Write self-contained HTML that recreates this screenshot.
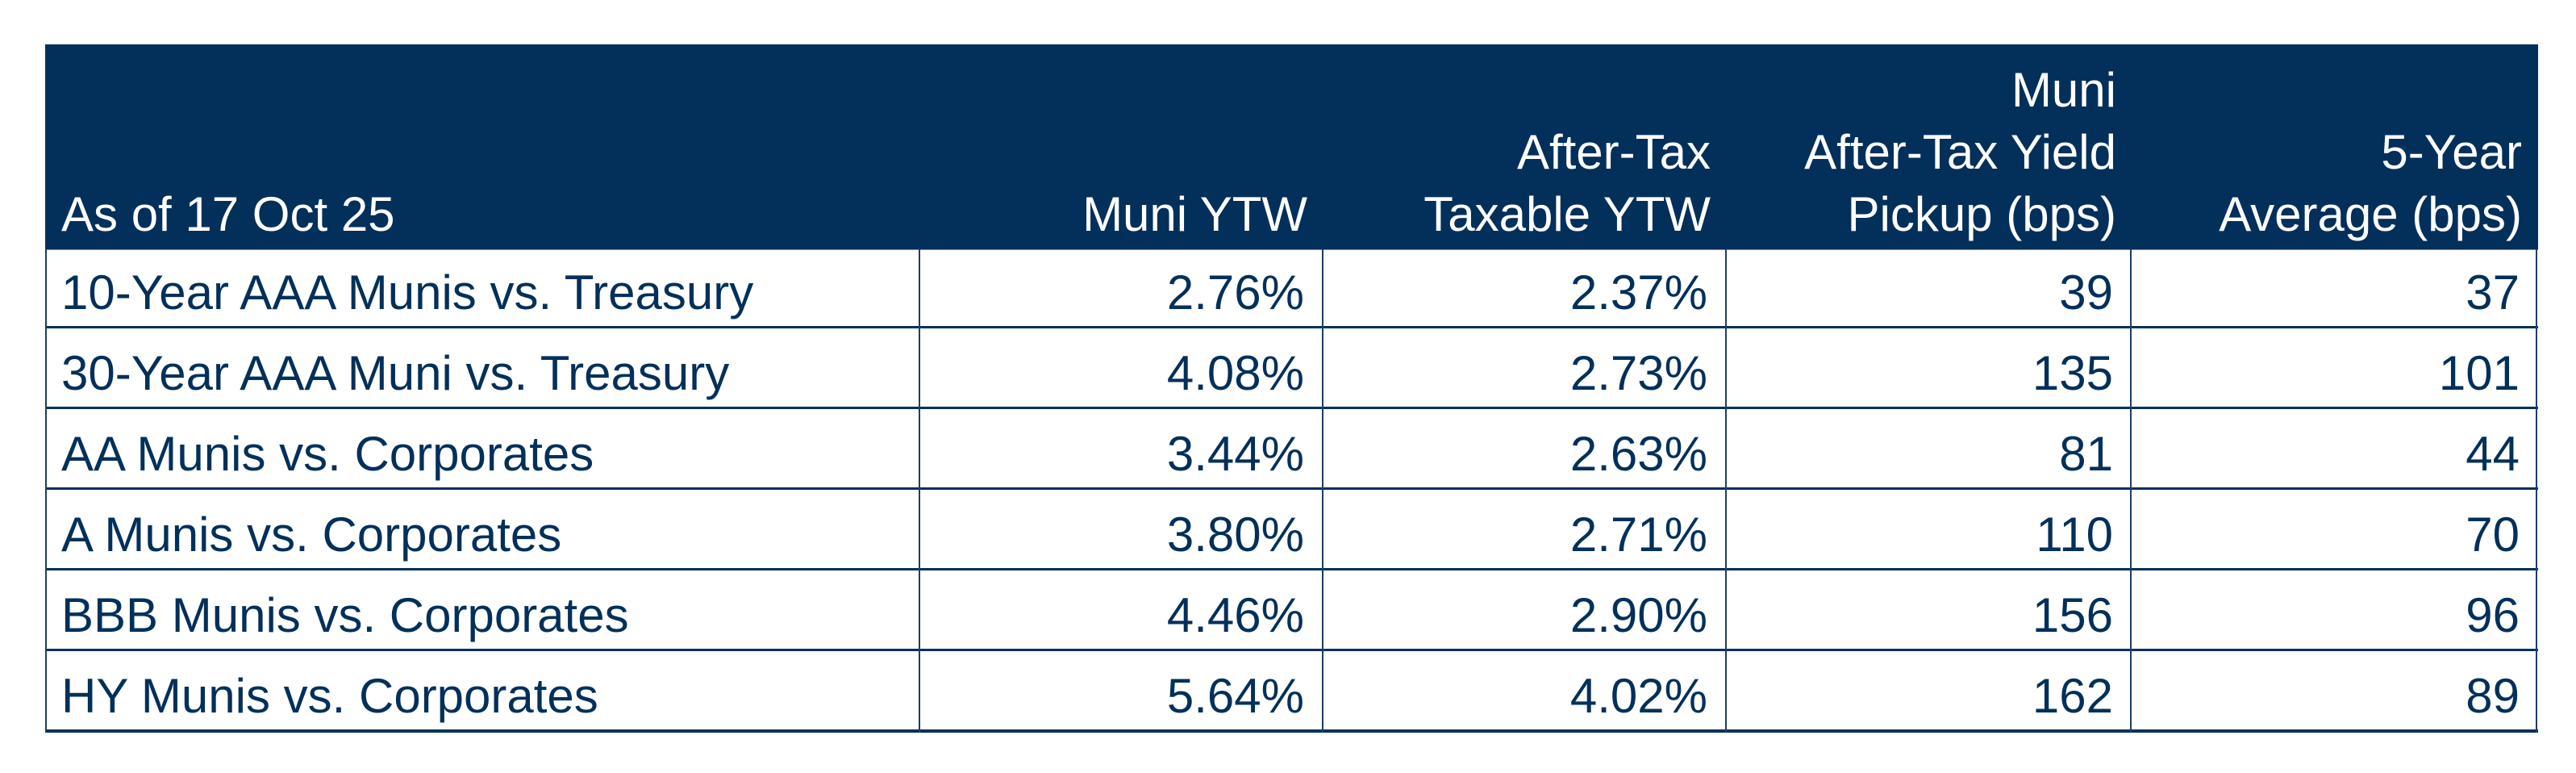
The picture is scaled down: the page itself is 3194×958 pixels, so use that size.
<!DOCTYPE html>
<html>
<head>
<meta charset="utf-8">
<style>
  html, body { margin:0; padding:0; }
  body { width:3194px; height:958px; background:#ffffff; position:relative; overflow:hidden;
         font-family:"Liberation Sans", "DejaVu Sans", sans-serif; }
  .abs { position:absolute; }
  .hdr { left:56px; top:55px; width:3091px; height:255px; background:#03305a; }
  .hline { position:absolute; left:56px; width:3091px; height:3px; background:#03305a; }
  .vline { position:absolute; top:309px; width:2px; height:599px; background:#1d3f63; }
  .t { position:absolute; font-size:60px; line-height:60px; white-space:nowrap; }
  .w { color:#ffffff; }
  .n { color:#03305a; }
  .r { text-align:right; }
</style>
</head>
<body>
<div class="abs hdr"></div>
<div class="abs" style="left:56px;top:309px;width:3091px;height:1px;background:#8796aa;"></div>

<!-- row lines -->
<div class="hline" style="top:404px"></div>
<div class="hline" style="top:504px"></div>
<div class="hline" style="top:604px"></div>
<div class="hline" style="top:704px"></div>
<div class="hline" style="top:804px"></div>
<div class="hline" style="top:904px;height:4px"></div>

<!-- vertical lines -->
<div class="vline" style="left:56px"></div>
<div class="vline" style="left:1139px"></div>
<div class="vline" style="left:1639px"></div>
<div class="vline" style="left:2139px"></div>
<div class="vline" style="left:2641px"></div>
<div class="vline" style="left:3144px"></div>

<!-- header text (baselines 133, 210, 287; top = baseline - 51) -->
<div class="t w" style="left:76px;top:236px;">As of 17 Oct 25</div>

<div class="t w r" style="right:calc(3194px - 1621px);top:236px;">Muni YTW</div>

<div class="t w r" style="right:calc(3194px - 2121px);top:159px;">After-Tax</div>
<div class="t w r" style="right:calc(3194px - 2121px);top:236px;">Taxable YTW</div>

<div class="t w r" style="right:calc(3194px - 2624px);top:82px;">Muni</div>
<div class="t w r" style="right:calc(3194px - 2624px);top:159px;">After-Tax Yield</div>
<div class="t w r" style="right:calc(3194px - 2624px);top:236px;">Pickup (bps)</div>

<div class="t w r" style="right:calc(3194px - 3127px);top:159px;">5-Year</div>
<div class="t w r" style="right:calc(3194px - 3127px);top:236px;">Average (bps)</div>

<!-- rows: baselines 384,484,584,684,784,884 -->
<div class="t n" style="left:76px;top:333px;">10-Year AAA Munis vs. Treasury</div>
<div class="t n" style="left:76px;top:433px;">30-Year AAA Muni vs. Treasury</div>
<div class="t n" style="left:76px;top:533px;">AA Munis vs. Corporates</div>
<div class="t n" style="left:76px;top:633px;">A Munis vs. Corporates</div>
<div class="t n" style="left:76px;top:733px;">BBB Munis vs. Corporates</div>
<div class="t n" style="left:76px;top:833px;">HY Munis vs. Corporates</div>

<!-- col 2 -->
<div class="t n r" style="right:calc(3194px - 1617px);top:333px;">2.76%</div>
<div class="t n r" style="right:calc(3194px - 1617px);top:433px;">4.08%</div>
<div class="t n r" style="right:calc(3194px - 1617px);top:533px;">3.44%</div>
<div class="t n r" style="right:calc(3194px - 1617px);top:633px;">3.80%</div>
<div class="t n r" style="right:calc(3194px - 1617px);top:733px;">4.46%</div>
<div class="t n r" style="right:calc(3194px - 1617px);top:833px;">5.64%</div>

<!-- col 3 -->
<div class="t n r" style="right:calc(3194px - 2117px);top:333px;">2.37%</div>
<div class="t n r" style="right:calc(3194px - 2117px);top:433px;">2.73%</div>
<div class="t n r" style="right:calc(3194px - 2117px);top:533px;">2.63%</div>
<div class="t n r" style="right:calc(3194px - 2117px);top:633px;">2.71%</div>
<div class="t n r" style="right:calc(3194px - 2117px);top:733px;">2.90%</div>
<div class="t n r" style="right:calc(3194px - 2117px);top:833px;">4.02%</div>

<!-- col 4 -->
<div class="t n r" style="right:calc(3194px - 2620px);top:333px;">39</div>
<div class="t n r" style="right:calc(3194px - 2620px);top:433px;">135</div>
<div class="t n r" style="right:calc(3194px - 2620px);top:533px;">81</div>
<div class="t n r" style="right:calc(3194px - 2620px);top:633px;">110</div>
<div class="t n r" style="right:calc(3194px - 2620px);top:733px;">156</div>
<div class="t n r" style="right:calc(3194px - 2620px);top:833px;">162</div>

<!-- col 5 -->
<div class="t n r" style="right:calc(3194px - 3124px);top:333px;">37</div>
<div class="t n r" style="right:calc(3194px - 3124px);top:433px;">101</div>
<div class="t n r" style="right:calc(3194px - 3124px);top:533px;">44</div>
<div class="t n r" style="right:calc(3194px - 3124px);top:633px;">70</div>
<div class="t n r" style="right:calc(3194px - 3124px);top:733px;">96</div>
<div class="t n r" style="right:calc(3194px - 3124px);top:833px;">89</div>
</body>
</html>
